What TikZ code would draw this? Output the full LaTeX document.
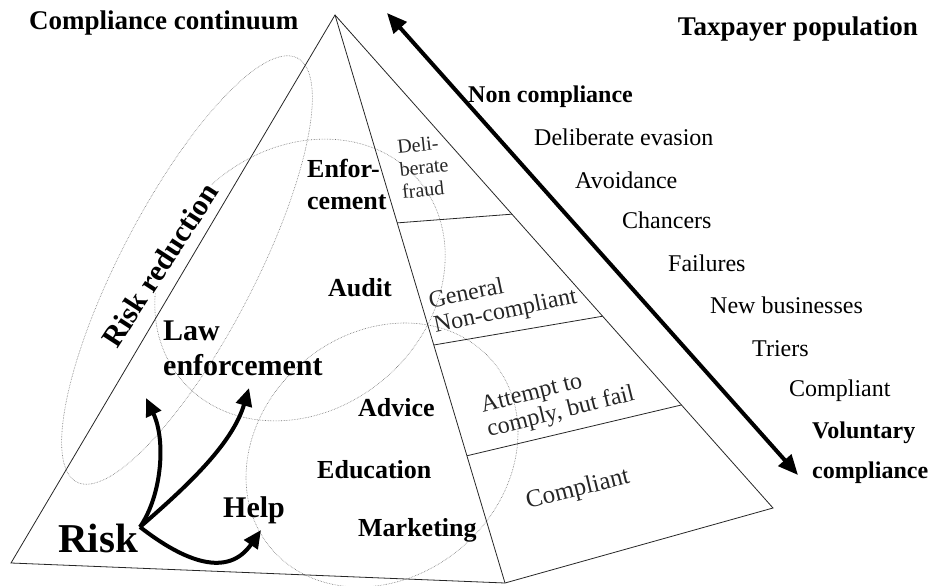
\documentclass[tikz,border=0pt]{standalone}
\usepackage{fontspec}
\setmainfont{Liberation Serif}
\usetikzlibrary{arrows.meta,calc}
\begin{document}
\begin{tikzpicture}[x=1pt,y=-1pt,
  edge/.style={line width=0.8pt, draw=black!85},
  ell/.style={densely dotted, line width=0.6pt, draw=black!55},
  bigarrow/.style={line width=4pt, {Triangle[length=20pt,width=17pt]}-{Triangle[length=20pt,width=17pt]}},
  riskarrow/.style={line width=4pt, -{Triangle[length=18pt,width=16pt]}},
  titlelbl/.style={inner sep=0pt, font=\fontsize{27}{30}\selectfont\bfseries},
  poplbl/.style={inner sep=0pt, anchor=west, font=\fontsize{24}{27}\selectfont},
  popbold/.style={inner sep=0pt, anchor=west, font=\fontsize{24}{27}\selectfont\bfseries},
  toollbl/.style={inner sep=0pt, anchor=west, align=left, font=\fontsize{26}{32}\selectfont\bfseries},
  biglbl/.style={inner sep=0pt, anchor=west, align=left, font=\fontsize{30}{35}\selectfont\bfseries},
  facelbl/.style={inner sep=0pt, align=left, font=\fontsize{24}{25}\selectfont, text=black!85},
]
\useasboundingbox (0,0) rectangle (930,586);

% dotted ellipses
\draw[ell, rotate around={62.5:(187,270)}] (187,270) ellipse [x radius=239, y radius=67];
\draw[ell, rotate around={40:(300,280)}] (300,280) ellipse [x radius=155, y radius=130];
\draw[ell, rotate around={40:(382,455)}] (382,455) ellipse [x radius=145, y radius=122];

% risk reduction label (covers the dotted circle behind it)
\node[inner sep=1pt, fill=white, rotate=57, font=\fontsize{30}{32}\selectfont\bfseries] (rr) at (160,265) {Risk reduction};

% pyramid
\coordinate (apex) at (335,15);
\coordinate (lb) at (11,563);
\coordinate (mb) at (505,583);
\coordinate (rb) at (773,508);
\draw[edge] (apex) -- (lb) -- (mb) -- (rb) -- cycle;
\draw[edge] (apex) -- (mb);
\coordinate (d1l) at ($(apex)!0.366!(mb)$);
\coordinate (d1r) at ($(apex)!0.404!(rb)$);
\coordinate (d2l) at ($(apex)!0.581!(mb)$);
\coordinate (d2r) at ($(apex)!0.611!(rb)$);
\coordinate (d3l) at ($(apex)!0.776!(mb)$);
\coordinate (d3r) at ($(apex)!0.791!(rb)$);
\draw[edge] (d1l) -- (d1r);
\draw[edge] (d2l) -- (d2r);
\draw[edge] (d3l) -- (d3r);

% big double arrow
\coordinate (ta) at (387,13);
\coordinate (tb) at (798,475);
\draw[bigarrow] (ta) -- (tb);

% titles
\node[titlelbl, anchor=west] (cc) at (29,23) {Compliance continuum};
\node[titlelbl, anchor=east] (tp) at (918,29) {Taxpayer population};

% population list
\node[popbold] (nc) at (468,97) {Non compliance};
\node[poplbl] (de) at (534,137) {Deliberate evasion};
\node[poplbl] (av) at (575,180) {Avoidance};
\node[poplbl] (ch) at (622,220) {Chancers};
\node[poplbl] (fa) at (668,263) {Failures};
\node[poplbl] (nb) at (710,305) {New businesses};
\node[poplbl] (tr) at (752,349) {Triers};
\node[poplbl] (co) at (789,391) {Compliant};
\node[popbold] (vo) at (812,433) {Voluntary};
\node[popbold] (vc) at (812,473) {compliance};

% left face
\node[toollbl] (enf) at (307,184) {Enfor-\\cement};
\node[toollbl] (aud) at (328,288) {Audit};
\node[toollbl] (adv) at (358,408) {Advice};
\node[toollbl] (edu) at (317,470) {Education};
\node[toollbl] (mkt) at (358,530) {Marketing};
\node[biglbl] (law) at (163,348) {Law\\enforcement};
\node[biglbl] (help) at (223,510) {Help};
\node[inner sep=0pt, anchor=west, font=\fontsize{41}{44}\selectfont\bfseries] (risk) at (58,538) {Risk};

% right face
\node[facelbl, rotate=6, font=\fontsize{20}{22.5}\selectfont] (df) at (424,167) {Deli-\\berate\\fraud};
\node[facelbl, rotate=12] (gn) at (503,300) {General\\Non-compliant};
\node[facelbl, rotate=14] (at) at (558,401) {Attempt to\\comply, but fail};
\node[facelbl, rotate=14, font=\fontsize{25}{26}\selectfont] (cp) at (578,490) {Compliant};

% risk arrows
\coordinate (rs) at (140,527);
\coordinate (t1) at (146,398);
\coordinate (t2) at (249,388);
\coordinate (t3) at (261,530);
\draw[riskarrow] (rs) .. controls (162,495) and (166,440) .. (t1);
\draw[riskarrow] (rs) .. controls (185,488) and (232,445) .. (t2);
\draw[riskarrow] (rs) .. controls (185,562) and (228,578) .. (t3);
\end{tikzpicture}
\end{document}
